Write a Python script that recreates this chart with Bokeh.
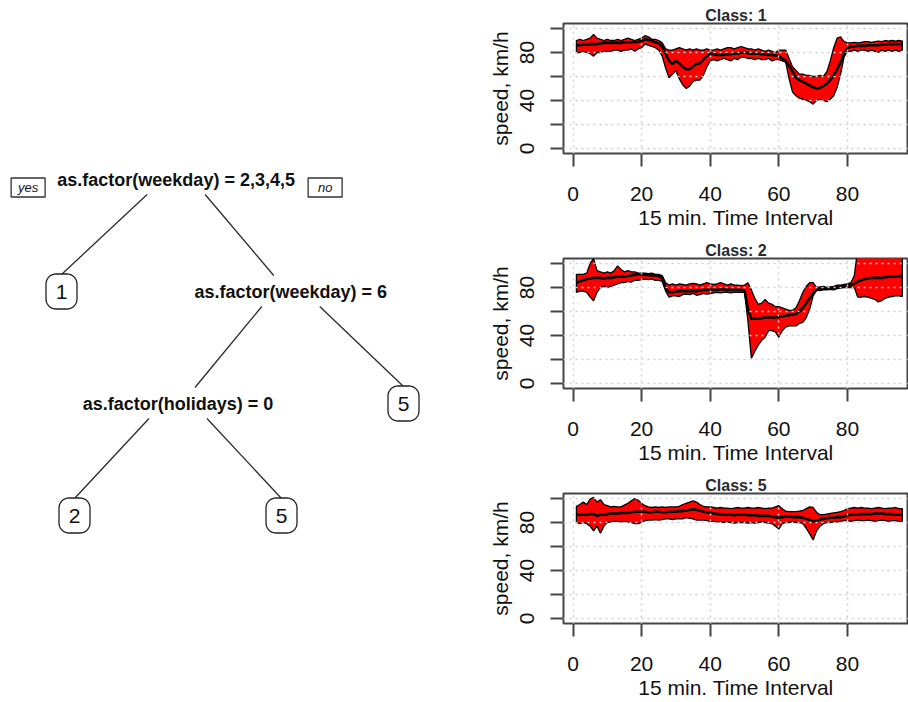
import numpy as np
from bokeh.plotting import figure
from bokeh.layouts import row, column
from bokeh.models import Range1d, FixedTicker
from bokeh.core.properties import value
from bokeh.embed import file_html
from bokeh.resources import INLINE

FONT = "Liberation Sans"

# ---------------------------------------------------------------- data
interval = list(range(1, 97))

class1_mean = [86, 86, 86.5, 86.5, 87, 87, 87, 87.5, 88, 88,
               88, 88, 88, 88, 88.5, 88.5, 88.5, 88.5, 89, 89.5,
               91, 90.5, 89.5, 88.5, 87.5, 85, 79, 73, 70.5, 73,
               71, 68, 66, 66, 68.5, 70.5, 71, 74, 77, 79,
               78.5, 78, 78, 78, 78.5, 78.5, 79, 79, 80, 80,
               79.5, 79, 79, 79, 78.5, 78.5, 78, 78, 77.5, 77,
               75, 73, 69, 64, 59, 57, 55.5, 54, 52.5, 51,
               50, 50.5, 52, 54, 57, 61, 66, 72, 79, 83.5,
               85, 85, 85.5, 85.5, 85.5, 86, 86, 86, 86, 86.5,
               86.5, 87, 87, 87, 87, 87]
class1_upper = [90, 91, 90, 91, 92, 95, 92, 91, 90, 91,
                90, 90, 91, 90, 91, 92, 91, 90, 91, 92,
                94, 93, 91, 91, 90, 88, 83, 82, 82, 83,
                84, 83, 82, 83, 82, 83, 82, 82, 83, 82,
                82, 83, 82, 83, 84, 84, 83, 84, 85, 84,
                83, 83, 82, 83, 82, 81, 82, 81, 80, 82,
                82, 82, 75, 68, 65, 62, 62, 61, 61, 60,
                60, 61, 60, 64, 73, 84, 92, 93, 89, 88,
                88, 88.5, 88, 88.5, 89, 89, 88.5, 89, 89.5, 89,
                90, 89.5, 90, 89.5, 90, 89.5]
class1_lower = [80, 80, 81, 80, 79, 77, 80, 80, 81, 81,
                81, 82, 82, 81, 82, 82, 83, 81, 83, 84,
                87, 86, 85, 84, 82, 77, 67, 59, 62, 65,
                58, 53, 50, 52, 56, 57, 57, 61, 68, 73,
                74, 73, 74, 75, 74, 73, 75, 74, 76, 76,
                75, 75, 74, 75, 74, 74, 75, 73, 74, 74,
                73, 72, 58, 47, 44, 42, 41, 40, 39, 37,
                40, 41, 40, 39, 41, 44, 51, 62, 76, 81,
                81, 82, 81, 82, 82, 81, 82, 81, 80, 82,
                81, 82, 81, 82, 81, 82]

class2_mean = [84, 85, 86, 87, 87.5, 88, 88, 88, 87.5, 88,
               88, 88.5, 89, 89, 89, 89.5, 90, 90.5, 91, 91,
               90.5, 90.5, 90, 90, 89.5, 88, 80, 76, 76, 76.5,
               77, 77, 77, 77, 77, 77, 77.5, 78, 78, 78,
               78, 78, 78.5, 78.5, 78, 78, 78, 78, 78, 77.5,
               62, 54, 54, 54, 54.5, 55, 55, 55, 55, 55.5,
               56, 56.5, 57, 57.5, 58, 60, 63, 67, 71, 75,
               78, 78.5, 79, 79, 79, 79.5, 80, 80.5, 81, 81.5,
               82, 83, 85, 86, 87, 87.5, 88, 88, 88, 88,
               88.5, 89, 89, 89, 89.5, 89.5]
class2_upper = [91, 91, 91, 92, 100, 104, 94, 93, 92, 93,
                92, 94, 98, 95, 93, 94, 93, 93, 92, 92,
                92, 91.5, 92, 91, 91, 90, 84, 82, 83, 82,
                83, 82.5, 82, 83, 83.5, 83, 82, 83, 84, 83,
                82.5, 83, 84, 83, 82, 83, 82, 82, 81.5, 82,
                84, 78, 71, 66, 67, 70, 67, 66, 64, 64,
                63, 62, 61, 61, 63, 69, 76, 81, 84, 84,
                80, 80.5, 81, 80, 80.5, 81, 82, 82, 82.5, 83,
                84, 90, 112, 112, 112, 112, 112, 112, 112, 112,
                112, 112, 112, 112, 112, 112]
class2_lower = [76, 77, 77, 76, 72, 69, 76, 80, 81, 80,
                81, 82, 83, 84, 84, 85, 84.5, 86, 86, 86.5,
                87, 86.5, 87, 86, 86, 85, 77, 72, 73, 73,
                72.5, 74, 74.5, 74, 75, 73.5, 74, 75, 74.5, 75,
                75.5, 76, 75.5, 76, 76, 75.5, 76, 76, 76, 76,
                52, 21, 27, 32, 36, 38.5, 44, 44, 43, 38.5,
                44, 47, 48, 48, 48, 50, 51, 55, 62, 73,
                78, 77.5, 78, 78, 78.5, 78, 79, 79.5, 80, 80,
                80, 80, 72, 72, 72.5, 72, 71, 70, 68, 69,
                71, 72, 72.5, 73, 73, 72.5]

class5_mean = [86.5, 86.5, 86.5, 86.5, 87, 87, 85.5, 86.5, 86.5, 87,
               87.5, 87.5, 87.5, 88, 88, 88, 88.5, 89, 89, 89,
               89, 88.5, 88.5, 89, 89, 88.5, 88.5, 89, 89, 89,
               89.5, 89.5, 90, 90.5, 91, 90.5, 90, 89, 88.5, 88,
               87.5, 87, 87, 86.5, 86.5, 86.5, 86, 86.5, 86.5, 86.5,
               86, 86, 86, 85.5, 85.5, 85.5, 85.5, 85, 84.5, 84,
               84.5, 85, 85, 84.5, 84.5, 84.5, 84, 83, 82, 81,
               81.5, 82.5, 83, 83.5, 84, 84, 84.5, 84.5, 85, 86,
               86.5, 86.5, 86.5, 87, 87, 87, 87, 87.5, 87.5, 87.5,
               87, 87, 87, 86.5, 86.5, 86.5]
class5_upper = [93.5, 95, 97, 95, 99.5, 101, 97, 99, 95, 94,
                93, 93.5, 93, 93, 94.5, 96, 98, 100, 98.5, 96,
                94, 93, 92.5, 93, 92.5, 93, 92.5, 93, 93, 93,
                93.5, 95, 96, 97, 98, 97, 95, 93.5, 93, 93,
                92.5, 92, 92.5, 92, 92, 91.5, 92, 92.5, 92, 92,
                92.5, 92, 92, 92.5, 92, 91.5, 92, 92, 93, 94,
                91.5, 89.5, 89, 89, 89, 89.5, 90, 91.5, 93, 92.5,
                88.5, 86.5, 86.5, 87, 87.5, 88, 88.5, 89, 90, 91.5,
                92, 92.5, 92, 92.5, 92, 92, 91.5, 92, 92.5, 92,
                91.5, 92, 92, 92.5, 91.5, 91.5]
class5_lower = [80, 79, 80, 79, 77, 73, 77, 71, 77, 80,
                80.5, 81, 81, 80.5, 81, 80.5, 80, 79, 79, 80,
                81.5, 82, 82, 82.5, 82, 82.5, 83, 83, 82.5, 83,
                83, 83, 84, 83.5, 83, 82, 82, 82, 81.5, 81,
                81, 80.5, 80.5, 80, 80.5, 80, 79.5, 80, 80, 80,
                79.5, 80, 79.5, 80, 80.5, 80, 79.5, 79, 77, 74.5,
                79, 80, 80, 80.5, 80, 80, 79, 75, 70.5, 65.5,
                73, 77, 79, 80, 80, 80.5, 80.5, 81, 81.5, 81.5,
                81, 81.5, 82, 81.5, 81.5, 82, 81.5, 81, 81.5, 82,
                81.5, 81, 81.5, 81.5, 81, 81]

class_names = ["1", "2", "5"]
x_ticks = [0, 20, 40, 60, 80]
y_ticks = [0, 20, 40, 60, 80, 100]
y_tick_text = {0: "0", 20: "", 40: "40", 60: "", 80: "80", 100: ""}

# decision tree structure
split_text = {
    "root": "as.factor(weekday) = 2,3,4,5",
    "wd6": "as.factor(weekday) = 6",
    "hol": "as.factor(holidays) = 0",
}
tree_children = {"root": ("leaf1", "wd6"), "wd6": ("hol", "leaf5b"), "hol": ("leaf2", "leaf5a")}
leaf_text = {"leaf1": "1", "leaf2": "2", "leaf5a": "5", "leaf5b": "5"}

# ---------------------------------------------------------------- tree layout
TREE_W, H = 480, 702
leaf_x = {"leaf1": 61, "leaf2": 74, "leaf5a": 281, "leaf5b": 403}
row_top, row_step = 179, 112

pos = {}


def place(node, depth):
    if node in leaf_text:
        pos[node] = (leaf_x[node], row_top + depth * row_step)
        return pos[node][0]
    left, right = tree_children[node]
    xl = place(left, depth + 1)
    xr = place(right, depth + 1)
    pos[node] = ((xl + xr) / 2.0, row_top + depth * row_step)
    return pos[node][0]


place("root", 0)

tree = figure(width=TREE_W, height=H, x_range=Range1d(0, TREE_W), y_range=Range1d(H, 0),
              output_backend="svg", toolbar_location=None, min_border=0)
tree.axis.visible = False
tree.grid.visible = False
tree.outline_line_color = None
tree.background_fill_color = "white"
tree.border_fill_color = "white"

# branches
x0s, y0s, x1s, y1s = [], [], [], []
for parent, kids in tree_children.items():
    px, py = pos[parent]
    for side, kid in zip((-1, 1), kids):
        cx, cy = pos[kid]
        x0s.append(px + side * 29)
        y0s.append(py + 15)
        if kid in leaf_text:
            x1s.append(cx)
            y1s.append(cy - 17)
        else:
            x1s.append(cx - side * 17)
            y1s.append(cy - 16)
tree.segment(x0=x0s, y0=y0s, x1=x1s, y1=y1s, line_color="#2a2a2a", line_width=1.3)

# split labels
sx = [pos[k][0] for k in split_text]
sy = [pos[k][1] for k in split_text]
tree.text(x=sx, y=sy, text=list(split_text.values()), text_font=value(FONT),
          text_font_style="bold", text_font_size="18px", text_align="center",
          text_baseline="middle", text_color="#111111")


def rounded_box(cx, cy, w, h, r, n=10):
    xs, ys = [], []
    centers = [(cx + w / 2 - r, cy + h / 2 - r, 0), (cx - w / 2 + r, cy + h / 2 - r, 90),
               (cx - w / 2 + r, cy - h / 2 + r, 180), (cx + w / 2 - r, cy - h / 2 + r, 270)]
    for ccx, ccy, a0 in centers:
        for t in np.radians(np.linspace(a0, a0 + 90, n)):
            xs.append(ccx + r * np.cos(t))
            ys.append(ccy + r * np.sin(t))
    return xs, ys


bx, by = [], []
for k in leaf_text:
    xs, ys = rounded_box(pos[k][0], pos[k][1], 31, 35, 10)
    bx.append(xs)
    by.append(ys)
tree.patches(bx, by, fill_color="white", line_color="#222222", line_width=1.3)
tree.text(x=[pos[k][0] for k in leaf_text], y=[pos[k][1] for k in leaf_text],
          text=list(leaf_text.values()), text_font=value(FONT), text_font_size="21px",
          text_align="center", text_baseline="middle", text_color="#111111")

# yes / no tags beside the root split
rx, ry = pos["root"]
tag_x = [rx - 148, rx + 149]
tag_y = [ry + 8, ry + 8]
tree.rect(x=tag_x, y=tag_y, width=34, height=19, fill_color="white",
          line_color="#333333", line_width=1.3)
tree.text(x=tag_x, y=tag_y, text=["yes", "no"], text_font=value(FONT),
          text_font_style="italic", text_font_size="13px", text_align="center",
          text_baseline="middle", text_color="#111111")

# ---------------------------------------------------------------- class panels


def class_panel(name, mean, upper, lower, height):
    p = figure(width=428, height=height, x_range=Range1d(-2.77, 97.8),
               y_range=Range1d(-4.16, 104.16), output_backend="svg",
               toolbar_location=None, min_border_left=83, min_border_right=0,
               min_border_top=23, min_border_bottom=height - 153,
               title="Class: " + name)
    p.title.align = "center"
    p.title.text_font = FONT
    p.title.text_font_size = "16px"
    p.title.text_font_style = "bold"
    p.title.text_color = "#2a2a2a"
    p.title.standoff = 0
    p.background_fill_color = "white"
    p.border_fill_color = "white"
    p.outline_line_color = "#444444"
    p.outline_line_width = 2

    xs = interval + interval[::-1]
    ys = upper + lower[::-1]
    p.patch(xs, ys, fill_color="red", line_color="black", line_width=1.3)
    p.line(interval, mean, line_color="black", line_width=2.6)

    p.xaxis.ticker = FixedTicker(ticks=x_ticks)
    p.yaxis.ticker = FixedTicker(ticks=y_ticks)
    p.xgrid.ticker = FixedTicker(ticks=x_ticks)
    p.ygrid.ticker = FixedTicker(ticks=y_ticks)
    p.grid.grid_line_color = "#cfcfcf"
    p.grid.grid_line_dash = "2 4"
    p.grid.grid_line_width = 1.5
    p.grid.level = "overlay"

    p.yaxis.major_label_overrides = y_tick_text
    p.yaxis.major_label_orientation = "vertical"
    for ax in (p.xaxis, p.yaxis):
        ax.axis_line_color = None
        ax.major_tick_in = 0
        ax.major_tick_out = 13
        ax.major_tick_line_color = "#444444"
        ax.major_tick_line_width = 2
        ax.minor_tick_line_color = None
        ax.major_label_text_font = FONT
        ax.major_label_text_font_size = "21px"
        ax.major_label_text_color = "#111111"
        ax.axis_label_text_font = FONT
        ax.axis_label_text_font_size = "21px"
        ax.axis_label_text_font_style = "normal"
        ax.axis_label_text_color = "#111111"
    p.xaxis.major_label_standoff = 20
    p.yaxis.major_label_standoff = 16
    p.xaxis.axis_label = "15 min. Time Interval"
    p.yaxis.axis_label = "speed, km/h"
    p.xaxis.axis_label_standoff = 2
    p.yaxis.axis_label_standoff = 6
    return p


series = [(class1_mean, class1_upper, class1_lower),
          (class2_mean, class2_upper, class2_lower),
          (class5_mean, class5_upper, class5_lower)]
heights = [235, 235, 232]
panels = [class_panel(n, m, u, l, h) for n, (m, u, l), h in zip(class_names, series, heights)]

layout = row(tree, column(*panels, spacing=0), spacing=0)
open("out.html", "w").write(file_html(layout, INLINE, title="Speed classes"))
